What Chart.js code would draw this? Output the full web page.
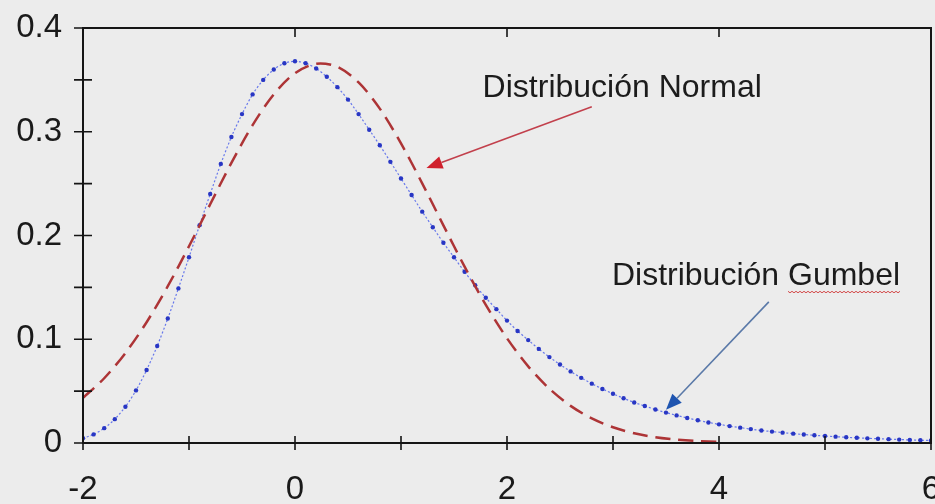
<!DOCTYPE html>
<html>
<head>
<meta charset="utf-8">
<script src="https://cdn.jsdelivr.net/npm/chart.js@4.4.1/dist/chart.umd.min.js"></script>
<style>
  html, body { margin: 0; padding: 0; background: #ececec; }
  #wrap { width: 935px; height: 504px; position: relative; }
</style>
</head>
<body>
<div id="wrap"><canvas id="c" width="935" height="504"></canvas></div>
<script>
// ---- data ----
const gumbelX = [-2,-1.9,-1.8,-1.7,-1.6,-1.5,-1.4,-1.3,-1.2,-1.1,-1,-0.9,-0.8,-0.7,-0.6,-0.5,-0.4,-0.3,-0.2,-0.1,
  0,0.1,0.2,0.3,0.4,0.5,0.6,0.7,0.8,0.9,1,1.1,1.2,1.3,1.4,1.5,1.6,1.7,1.8,1.9,
  2,2.1,2.2,2.3,2.4,2.5,2.6,2.7,2.8,2.9,3,3.1,3.2,3.3,3.4,3.5,3.6,3.7,3.8,3.9,
  4,4.1,4.2,4.3,4.4,4.5,4.6,4.7,4.8,4.9,5,5.1,5.2,5.3,5.4,5.5,5.6,5.7,5.8,5.9,6];
const gumbelY = [0.0046,0.0083,0.0143,0.0230,0.0350,0.0507,0.0703,0.0935,0.120,0.149,0.179,0.210,0.240,0.269,0.295,0.317,0.336,0.350,0.360,0.366,
  0.368,0.366,0.361,0.353,0.343,0.331,0.317,0.302,0.287,0.271,0.255,0.239,0.223,0.208,0.193,0.179,0.165,0.152,0.140,0.129,
  0.118,0.108,0.0992,0.0907,0.0828,0.0756,0.0690,0.0628,0.0572,0.0521,0.0474,0.0431,0.0391,0.0356,0.0323,0.0293,0.0266,0.0241,0.0219,0.0198,
  0.0180,0.0163,0.0148,0.0134,0.0121,0.0110,0.0100,0.0090,0.0082,0.0074,0.0067,0.0061,0.0055,0.0050,0.0045,0.0041,0.0037,0.0033,0.0030,0.0027,0.0025];
const normalX = [-2,-1.8,-1.6,-1.4,-1.2,-1,-0.8,-0.6,-0.4,-0.2,0,0.2,0.4,0.6,0.8,1,1.2,1.4,1.6,1.8,2,2.2,2.4,2.6,2.8,3,3.2,3.4,3.6,3.8,4];
const normalY = [0.0435,0.0624,0.0867,0.1164,0.1511,0.1896,0.2301,0.2700,0.3064,0.3361,0.3565,0.3656,0.3626,0.3476,0.3223,0.2888,0.2503,0.2098,0.1700,0.1331,0.1009,0.0739,0.0523,0.0358,0.0237,0.0152,0.0094,0.0056,0.0033,0.0018,0.0010];
const xTickLabels = ['-2','0','2','4','6'];
const yTickLabels = ['0','0.1','0.2','0.3','0.4'];
const labelNormal = 'Distribución Normal';
const labelGumbel = 'Distribución Gumbel';

// annotation anchors in data units
const notes = [
  { text: labelNormal, tx: 1.77, ty: 0.3335, ax0: 2.80, ay0: 0.324, ax1: 1.24, ay1: 0.265, line: '#c2404c', head: '#d0202c', underline: false },
  { text: labelGumbel, tx: 2.99, ty: 0.152, ax0: 4.47, ay0: 0.136, ax1: 3.50, ay1: 0.032, line: '#5a79a8', head: '#1f55b0', underline: true }
];

const FONT = '"Liberation Sans", Arial, Helvetica, sans-serif';

const frame = {
  id: 'frame',
  afterDatasetsDraw(chart) {
    const ctx = chart.ctx, a = chart.chartArea;
    const xs = chart.scales.x, ys = chart.scales.y;
    ctx.save();
    ctx.strokeStyle = '#151515';
    ctx.lineWidth = 2;
    ctx.strokeRect(a.left, a.top, a.right - a.left, a.bottom - a.top);
    ctx.lineWidth = 1.6;
    ctx.beginPath();
    xs.ticks.forEach(t => {
      const px = xs.getPixelForValue(t.value);
      ctx.moveTo(px, a.bottom - 7); ctx.lineTo(px, a.bottom + 7);
      if (Math.abs(t.value % 2) < 1e-9) { ctx.moveTo(px, a.top); ctx.lineTo(px, a.top + 9); }
    });
    ys.ticks.forEach(t => {
      const py = ys.getPixelForValue(t.value);
      ctx.moveTo(a.left - 9, py); ctx.lineTo(a.left + 9, py);
    });
    ctx.stroke();

    notes.forEach(n => {
      const x0 = xs.getPixelForValue(n.ax0), y0 = ys.getPixelForValue(n.ay0);
      const x1 = xs.getPixelForValue(n.ax1), y1 = ys.getPixelForValue(n.ay1);
      const ang = Math.atan2(y1 - y0, x1 - x0);
      const hl = 16, hw = 6.5;
      const bx = x1 - hl * Math.cos(ang), by = y1 - hl * Math.sin(ang);
      ctx.strokeStyle = n.line; ctx.lineWidth = 1.6;
      ctx.beginPath(); ctx.moveTo(x0, y0); ctx.lineTo(bx, by); ctx.stroke();
      ctx.fillStyle = n.head;
      ctx.beginPath();
      ctx.moveTo(x1, y1);
      ctx.lineTo(bx + hw * Math.sin(ang), by - hw * Math.cos(ang));
      ctx.lineTo(bx - hw * Math.sin(ang), by + hw * Math.cos(ang));
      ctx.closePath(); ctx.fill();

      const tx = xs.getPixelForValue(n.tx), ty = ys.getPixelForValue(n.ty);
      ctx.fillStyle = '#1c1c1c';
      ctx.font = '32px ' + FONT;
      ctx.textBaseline = 'alphabetic';
      ctx.textAlign = 'left';
      ctx.fillText(n.text, tx, ty);
      if (n.underline) {
        const pre = ctx.measureText('Distribución ').width;
        const w = ctx.measureText('Gumbel').width;
        ctx.strokeStyle = '#d24a4a'; ctx.lineWidth = 1;
        ctx.beginPath();
        let up = true;
        for (let x = tx + pre; x <= tx + pre + w; x += 2) {
          const y = ty + 6 + (up ? 0 : 1.5);
          if (x === tx + pre) ctx.moveTo(x, y); else ctx.lineTo(x, y);
          up = !up;
        }
        ctx.stroke();
      }
    });
    ctx.restore();
  }
};

new Chart(document.getElementById('c'), {
  type: 'line',
  data: {
    datasets: [
      {
        label: labelNormal,
        data: normalX.map((x, i) => ({ x, y: normalY[i] })),
        borderColor: '#ad3436',
        borderWidth: 2.5,
        borderDash: [15, 8],
        pointRadius: 0,
        tension: 0.3,
        fill: false
      },
      {
        label: labelGumbel,
        data: gumbelX.map((x, i) => ({ x, y: gumbelY[i] })),
        borderColor: 'rgba(80,100,235,0.85)',
        borderWidth: 1.2,
        borderDash: [2, 2],
        pointRadius: 2.2,
        pointBackgroundColor: '#2836c4',
        pointBorderColor: '#2836c4',
        pointBorderWidth: 0,
        tension: 0.3,
        fill: false
      }
    ]
  },
  options: {
    responsive: false,
    animation: false,
    events: [],
    layout: { padding: { top: 28, right: 3, left: 0, bottom: 0 } },
    plugins: { legend: { display: false }, tooltip: { enabled: false } },
    scales: {
      x: {
        type: 'linear', min: -2, max: 6,
        grid: { display: false, drawTicks: false },
        border: { display: false },
        ticks: {
          stepSize: 1, padding: 27, color: '#1a1a1a', maxRotation: 0, autoSkip: false,
          font: { family: FONT, size: 33 },
          callback: (v) => { const i = xTickLabels.indexOf(String(v)); return i >= 0 ? xTickLabels[i] : ''; }
        },
        afterFit: (s) => { s.height = 61; s.paddingLeft = 0; s.paddingRight = 0; }
      },
      y: {
        min: 0, max: 0.4,
        grid: { display: false, drawTicks: false },
        border: { display: false },
        ticks: {
          stepSize: 0.05, padding: 21, color: '#1a1a1a', autoSkip: false,
          font: { family: FONT, size: 33 },
          callback: (v) => { const s = String(Math.round(v * 100) / 100); return yTickLabels.includes(s) ? s : ''; }
        },
        afterFit: (s) => { s.width = 83; s.paddingTop = 0; s.paddingBottom = 0; }
      }
    }
  },
  plugins: [frame]
});
</script>
</body>
</html>
